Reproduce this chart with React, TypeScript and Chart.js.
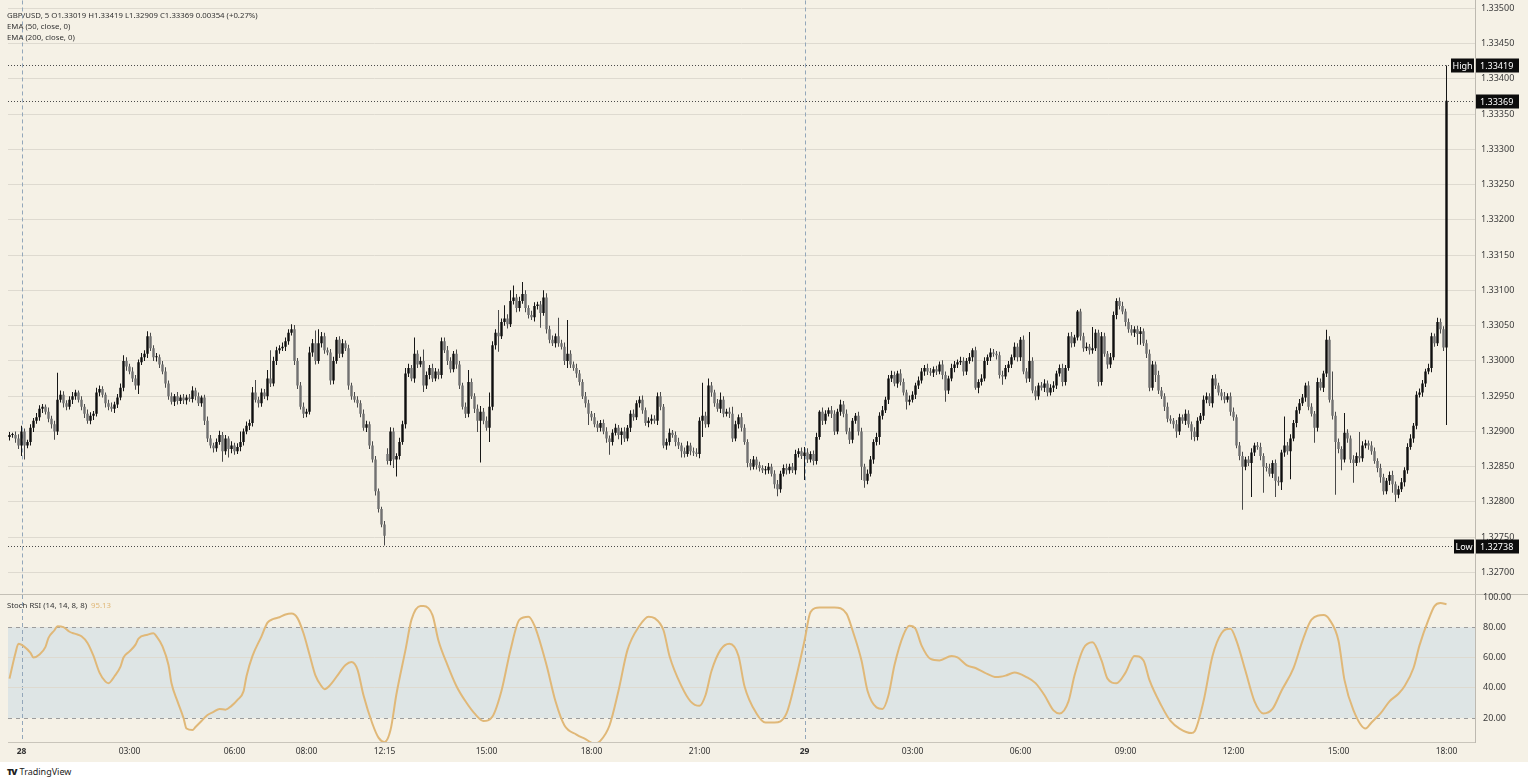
import React, { useEffect, useRef } from 'react';
import { Chart, registerables } from 'chart.js';

Chart.register(...registerables);

const FONT = '"Noto Sans", "DejaVu Sans", sans-serif';

// ---- price data (points of 0.00001 above PRICE_BASE) ----
const PRICE_BASE = 1.327;
const PIP = 0.00001;
const FIRST_OPEN = 192;
const GAP_INDEX = [126];
const GAP_OPEN = [168];

const CLOSE = [
  195,195,190,180,200,180,185,205,215,220,
  232,235,228,218,210,200,245,252,240,235,
  245,250,255,245,235,225,215,222,225,255,
  260,252,240,235,232,238,248,262,300,292,
  285,275,265,298,305,310,335,318,305,305,
  295,285,268,250,242,250,243,248,244,248,
  246,258,250,240,248,215,190,180,176,185,
  195,172,190,175,180,172,178,185,200,208,
  212,255,245,240,255,250,275,268,300,315,
  318,320,328,340,345,300,265,235,225,228,
  312,325,300,325,335,315,312,272,300,330,
  310,325,318,265,250,245,240,225,205,210,
  180,160,115,90,68,52,158,200,160,165,
  185,210,282,290,275,310,295,300,265,280,
  290,275,285,280,328,315,300,288,310,295,
  265,235,225,270,250,232,215,228,215,205,
  235,322,340,335,355,360,352,385,390,375,
  385,395,375,365,362,378,380,368,390,345,
  330,325,335,325,320,300,310,295,290,282,
  270,250,240,225,220,210,205,212,200,190,
  185,198,205,195,200,190,205,225,220,240,
  245,230,212,215,218,215,250,235,180,185,
  198,195,185,180,172,168,180,172,170,168,
  215,222,210,265,255,240,232,245,225,228,
  225,190,210,220,205,185,155,150,160,152,
  148,145,145,150,140,125,118,140,148,145,
  150,145,168,172,165,170,160,168,158,192,
  228,215,225,230,225,200,228,238,225,200,
  188,215,222,200,150,130,140,160,185,192,
  222,230,245,275,280,268,282,270,255,242,
  245,252,265,272,285,290,285,283,288,285,
  295,280,258,275,290,295,298,300,285,300,
  305,315,262,270,275,300,305,312,310,308,
  280,278,290,295,305,320,305,330,285,275,
  300,258,250,265,262,268,255,262,265,282,
  290,270,290,335,325,333,370,335,318,320,
  315,318,340,270,335,310,295,305,365,385,
  378,370,355,345,340,345,338,342,325,310,
  262,295,280,258,250,235,218,215,210,200,
  220,215,225,210,200,192,215,222,245,250,
  240,275,265,255,250,245,250,228,220,180,
  165,150,160,155,170,180,178,165,150,148,
  140,155,130,128,170,180,172,190,212,230,
  240,248,265,235,225,205,270,262,282,330,
  245,222,185,175,160,198,190,160,155,165,
  162,180,183,180,172,158,148,135,115,130,
  138,125,110,118,128,145,178,190,208,252,
  255,268,285,290,335,325,355,345,319,669,
];

const UPPER_WICK = [
  4,3,5,6,8,4,3,5,4,6,
  5,4,3,6,4,5,38,6,5,4,
  5,6,4,3,5,4,6,5,4,7,
  5,4,3,5,6,4,5,6,8,5,
  4,6,5,4,6,5,7,5,4,6,
  4,5,6,4,5,3,6,4,5,4,
  5,6,4,5,3,4,6,5,4,5,
  6,4,5,3,6,4,5,15,4,6,
  5,8,18,4,6,5,12,40,6,5,
  4,6,5,5,7,6,4,5,6,4,
  8,6,18,20,6,5,4,5,6,4,
  5,6,4,5,4,6,5,4,6,5,
  4,6,5,4,3,5,8,6,5,4,
  6,5,8,6,4,23,5,6,16,5,
  4,6,5,4,5,5,6,5,4,6,
  5,4,6,17,5,4,6,8,5,6,
  20,6,5,32,5,19,6,15,17,5,
  6,17,5,4,6,5,4,5,10,6,
  5,6,4,26,5,6,48,5,4,6,
  5,4,6,5,4,6,5,4,5,6,
  4,5,6,4,5,6,4,5,6,4,
  5,6,4,5,6,5,5,6,4,5,
  6,4,5,6,4,5,6,4,5,6,
  5,47,6,10,5,4,6,10,5,4,
  6,10,5,4,6,5,4,6,5,4,
  5,4,6,5,4,5,6,4,5,6,
  4,5,6,4,5,8,6,4,5,6,
  2,6,5,4,6,5,4,7,5,6,
  5,4,4,6,5,4,6,5,4,6,
  5,6,4,5,6,5,4,6,5,4,
  6,5,4,6,5,4,6,5,4,5,
  4,6,5,4,6,5,4,6,5,4,
  6,3,5,4,6,5,4,6,5,4,
  5,6,4,5,4,6,5,4,6,5,
  41,5,6,4,5,6,4,5,6,4,
  5,6,4,5,6,4,2,4,5,6,
  4,30,5,4,6,5,4,6,5,4,
  5,6,4,5,6,4,5,6,4,5,
  6,5,4,6,5,4,6,5,4,6,
  5,4,6,5,4,6,5,4,6,5,
  4,5,6,4,5,6,4,5,6,4,
  5,6,4,5,6,4,5,6,4,5,
  6,4,5,6,4,41,5,6,4,5,
  6,5,4,6,5,4,6,5,4,14,
  5,40,6,5,4,28,5,4,6,5,
  34,6,5,4,6,5,4,6,5,4,
  5,6,4,5,6,4,5,6,4,5,
  6,5,4,6,5,4,6,5,4,50,
];

const LOWER_WICK = [
  5,4,6,5,15,20,4,5,6,4,
  5,6,4,5,6,12,5,4,6,5,
  4,6,5,4,5,6,4,5,6,4,
  5,4,6,5,4,6,5,4,5,6,
  4,5,6,12,4,5,6,4,5,6,
  5,4,6,5,4,6,5,4,5,6,
  4,5,6,4,5,6,5,4,6,5,
  4,15,5,12,6,5,4,6,5,4,
  6,5,4,6,5,4,6,5,4,6,
  5,4,6,5,4,6,5,4,6,5,
  4,6,5,4,6,5,4,6,5,4,
  6,5,4,6,5,4,6,5,4,6,
  5,4,6,5,4,14,5,6,12,24,
  5,4,6,5,4,6,5,4,9,5,
  6,5,4,6,5,4,6,5,4,6,
  5,4,6,5,4,6,16,59,5,4,
  20,5,6,22,4,5,6,4,5,6,
  5,4,6,5,4,6,5,21,4,6,
  5,4,6,5,4,6,10,5,4,6,
  5,4,6,16,5,4,6,5,4,6,
  18,5,4,6,14,5,4,6,5,4,
  6,5,4,6,5,4,6,5,4,6,
  5,4,6,5,9,5,4,6,5,4,
  6,23,5,4,6,5,4,6,5,4,
  6,5,4,6,5,4,6,5,4,6,
  5,4,6,5,4,6,10,5,4,6,
  5,4,6,5,4,34,5,4,6,5,
  4,6,5,4,6,5,4,6,5,4,
  6,5,4,6,19,10,5,4,6,5,
  11,5,4,6,5,4,6,5,4,11,
  5,4,6,5,4,6,5,4,6,5,
  4,6,16,5,4,6,5,4,6,5,
  4,6,3,8,5,4,6,5,4,6,
  5,12,4,6,5,4,6,5,4,6,
  5,4,6,5,4,6,5,4,6,5,
  4,6,5,4,6,5,4,6,5,4,
  6,5,4,6,5,4,6,5,4,6,
  5,4,6,5,4,6,15,15,4,6,
  5,4,10,5,4,6,5,4,6,9,
  5,4,6,5,12,6,5,4,6,5,
  4,6,5,4,6,5,4,6,5,4,
  6,61,5,4,48,5,4,6,37,5,
  4,6,23,5,11,6,5,40,4,6,
  5,4,6,5,4,21,5,4,6,5,
  4,5,75,6,15,4,6,5,28,4,
  6,5,4,6,5,4,6,8,5,4,
  6,12,10,5,4,6,5,4,6,5,
  4,6,5,4,6,5,4,6,5,110,
];

// ---- axis / marks ----
const RIGHT_PAD_BARS = 9;
const PRICE_MIN = 1.3267;
const PRICE_MAX = 1.335112;
const PRICE_TICKS = [
  1.327, 1.3275, 1.328, 1.3285, 1.329, 1.3295, 1.33, 1.3305, 1.331,
  1.3315, 1.332, 1.3325, 1.333, 1.3335, 1.334, 1.3345, 1.335,
];
const MARK_PRICES = [1.33419, 1.33369, 1.32738];
const MARK_TAGS = ['High', '', 'Low'];

const TIME_TICK_INDEX = [4, 40, 75, 99, 125, 159, 194, 230, 265, 301, 337, 372, 408, 443, 479];
const TIME_TICK_LABEL = ['28', '03:00', '06:00', '08:00', '12:15', '15:00', '18:00', '21:00', '29', '03:00', '06:00', '09:00', '12:00', '15:00', '18:00'];
const DAY_INDEX = [4, 265];

// ---- Stoch RSI (candle index, value) ----
const STOCH_INDEX = [
  0,2,3,5,7,8,10,12,13,15,16,18,20,22,24,26,28,30,32,33,35,37,38,40,42,43,46,48,49,51,
  53,54,56,58,59,61,62,64,66,68,70,72,74,76,78,79,81,84,86,88,90,92,94,96,98,100,102,104,105,107,
  110,112,114,116,118,121,123,125,127,129,132,134,137,138,141,143,146,149,152,155,158,161,164,167,170,173,175,179,182,185,
  189,192,195,197,200,203,206,210,213,215,218,220,224,227,230,232,234,237,240,243,245,249,252,255,259,262,265,267,270,275,
  279,281,284,286,289,291,293,295,298,300,302,304,307,310,314,316,319,322,325,329,332,335,339,342,345,348,350,353,355,358,
  361,364,366,369,372,375,378,380,384,387,390,394,395,398,401,404,407,409,412,415,418,421,424,428,431,434,438,440,443,445,
  448,452,454,457,460,463,465,468,470,473,475,477,479,
];
const STOCH_VALUE = [
  46,63,69,67,63,60,62,67,73,78,80.7,80,77,75.6,74,69.6,61,50,44,43,47.6,54,60,64,68.5,72.5,75,76,74,67.4,
  55,43,31,20,13,12,14,18,22,24,26,25.5,28,32,37.6,47.6,61,74,83,85.5,86.6,88.4,89,86,76,62,48,41,39,42,
  50,55,57,52,35,16,7,4,12,36,65,85,94,94,88,71,55,41,31,23,18,21,38,65,85,87,81,55,31,15,
  9,6,3,5,15,38,65,81,87,86,78,61,41,31,28,35,51,65,69,61,41,23,17,17,23,45,71,90,93,93,
  89,78,58,38,27,26,35,55,75,81,79,68,59,58,61,60,55,53,50,47,48,50,47,43,35,25,23,31,48,66,
  70,58,46,43,50,61,58,45,28,18,13,10,11,31,61,76,79,71,51,31,23,26,38,53,71,85,88,85,71,45,
  25,13,17,23,31,36,41,53,68,85,94,96,95.13,
];
const STOCH_MIN = 4.1;
const STOCH_MAX = 101.3;
const STOCH_TICKS = [20, 40, 60, 80, 100];
const STOCH_BAND = [20, 80];
const STOCH_GRID = [40, 60];

const BG = '#F5F1E6';
const GRID = '#DEDAD0';
const DAY_LINE = '#93A7BA';
const STOCH_COLOR = '#E0B878';

const toPrice = (p: number) => PRICE_BASE + p * PIP;

export default function App() {
  const topRef = useRef<HTMLCanvasElement>(null);
  const botRef = useRef<HTMLCanvasElement>(null);

  useEffect(() => {
    const opens = CLOSE.map((c, i) => {
      const g = GAP_INDEX.indexOf(i);
      if (g >= 0) return GAP_OPEN[g];
      return i === 0 ? FIRST_OPEN : CLOSE[i - 1];
    });
    const up = CLOSE.map((c, i) => c >= opens[i]);
    const bodies = CLOSE.map((c, i) => ({ x: i, y: [toPrice(opens[i]), toPrice(c)] }));
    const wicks = CLOSE.map((c, i) => ({
      x: i,
      y: [toPrice(Math.min(opens[i], c) - LOWER_WICK[i]), toPrice(Math.max(opens[i], c) + UPPER_WICK[i])],
    }));
    const bodyColors = up.map((u) => (u ? '#0f0f0f' : '#717171'));
    const wickColors = up.map((u) => (u ? '#161616' : '#4a4a4a'));
    const xMax = CLOSE.length - 0.5 + RIGHT_PAD_BARS;

    const drawDayLines = (chart: any) => {
      const { ctx, chartArea, scales } = chart;
      ctx.save();
      ctx.strokeStyle = DAY_LINE;
      ctx.lineWidth = 1;
      ctx.setLineDash([4, 3]);
      DAY_INDEX.forEach((i) => {
        const x = Math.round(scales.x.getPixelForValue(i)) + 0.5;
        ctx.beginPath();
        ctx.moveTo(x, chartArea.top);
        ctx.lineTo(x, chartArea.bottom);
        ctx.stroke();
      });
      ctx.restore();
    };

    const topOverlay = {
      id: 'topOverlay',
      beforeDatasetsDraw(chart: any) {
        drawDayLines(chart);
      },
      afterDraw(chart: any) {
        const { ctx, chartArea, scales } = chart;
        ctx.save();
        MARK_PRICES.forEach((p, k) => {
          const y = Math.round(scales.y.getPixelForValue(p)) + 0.5;
          ctx.strokeStyle = '#4a4a4a';
          ctx.lineWidth = 1;
          ctx.setLineDash([1, 2]);
          ctx.beginPath();
          ctx.moveTo(chartArea.left, y);
          ctx.lineTo(chartArea.right, y);
          ctx.stroke();
          ctx.setLineDash([]);
          ctx.fillStyle = '#0c0c0c';
          ctx.fillRect(chartArea.right + 1, y - 7, 43, 14);
          ctx.fillStyle = '#ffffff';
          ctx.font = `9px ${FONT}`;
          ctx.textBaseline = 'middle';
          ctx.textAlign = 'left';
          ctx.fillText(p.toFixed(5), chartArea.right + 5, y + 0.5);
          if (MARK_TAGS[k]) {
            const w = MARK_TAGS[k] === 'High' ? 23 : 20;
            ctx.fillStyle = '#0c0c0c';
            ctx.fillRect(chartArea.right - w - 1, y - 7, w, 14);
            ctx.fillStyle = '#ffffff';
            ctx.textAlign = 'center';
            ctx.fillText(MARK_TAGS[k], chartArea.right - 1 - w / 2, y + 0.5);
          }
        });
        ctx.restore();
      },
    };

    const top = new Chart(topRef.current as HTMLCanvasElement, {
      type: 'bar',
      data: {
        datasets: [
          {
            label: 'wick',
            data: wicks as any,
            backgroundColor: wickColors,
            maxBarThickness: 1,
            grouped: false,
            order: 2,
          } as any,
          {
            label: 'body',
            data: bodies as any,
            backgroundColor: bodyColors,
            barPercentage: 0.95,
            categoryPercentage: 0.85,
            minBarLength: 1,
            grouped: false,
            order: 1,
          } as any,
        ],
      },
      options: {
        animation: false,
        responsive: false,
        maintainAspectRatio: false,
        layout: { autoPadding: false, padding: { left: 8, right: 0, top: 0, bottom: 0 } },
        plugins: { legend: { display: false }, tooltip: { enabled: false } },
        scales: {
          x: { type: 'linear', bounds: 'data', min: -0.5, max: xMax, offset: false, grid: { offset: false }, display: false },
          y: {
            position: 'right',
            bounds: 'data',
            min: PRICE_MIN,
            max: PRICE_MAX,
            afterBuildTicks: (s: any) => {
              s.ticks = PRICE_TICKS.map((v) => ({ value: v }));
            },
            grid: { color: GRID, drawTicks: true, tickLength: 6, tickColor: 'rgba(0,0,0,0)' },
            border: { display: true, color: '#BDB9B0' },
            ticks: {
              padding: 0,
              color: '#3a3a3a',
              font: { family: FONT, size: 9, lineHeight: 0.1 },
              callback: (v: any) => Number(v).toFixed(5),
            },
            afterFit: (s: any) => {
              s.width = 53;
            },
          },
        },
      } as any,
      plugins: [topOverlay],
    });

    const botOverlay = {
      id: 'botOverlay',
      beforeDraw(chart: any) {
        const { ctx, chartArea, scales } = chart;
        const yHi = scales.y.getPixelForValue(STOCH_BAND[1]);
        const yLo = scales.y.getPixelForValue(STOCH_BAND[0]);
        ctx.save();
        ctx.fillStyle = '#DEE5E5';
        ctx.fillRect(chartArea.left, yHi, chartArea.right - chartArea.left, yLo - yHi);
        ctx.strokeStyle = '#9c9c9c';
        ctx.lineWidth = 1;
        ctx.setLineDash([4, 4]);
        [yHi, yLo].forEach((yy) => {
          const y = Math.round(yy) + 0.5;
          ctx.beginPath();
          ctx.moveTo(chartArea.left, y);
          ctx.lineTo(chartArea.right, y);
          ctx.stroke();
        });
        ctx.restore();
        drawDayLines(chart);
      },
    };

    const bot = new Chart(botRef.current as HTMLCanvasElement, {
      type: 'line',
      data: {
        datasets: [
          {
            label: 'Stoch RSI',
            data: STOCH_INDEX.map((x, i) => ({ x, y: STOCH_VALUE[i] })),
            borderColor: STOCH_COLOR,
            borderWidth: 2,
            pointRadius: 0,
            cubicInterpolationMode: 'monotone',
            fill: false,
          },
        ],
      },
      options: {
        animation: false,
        responsive: false,
        maintainAspectRatio: false,
        layout: { autoPadding: false, padding: { left: 8, right: 0, top: 10, bottom: 0 } },
        plugins: { legend: { display: false }, tooltip: { enabled: false } },
        scales: {
          x: {
            type: 'linear',
            bounds: 'data',
            min: -0.5,
            max: xMax,
            offset: false,
            grid: { display: false, drawTicks: false },
            border: { display: true, color: '#C9C5BB' },
            afterBuildTicks: (s: any) => {
              s.ticks = TIME_TICK_INDEX.map((v) => ({ value: v }));
            },
            ticks: {
              autoSkip: false,
              maxRotation: 0,
              padding: 4,
              color: '#333333',
              font: (ctx: any) => ({
                family: FONT,
                size: 8.5,
                weight: ctx.tick && DAY_INDEX.includes(ctx.tick.value) ? 'bold' : 'normal',
              }),
              callback: (v: any) => {
                const k = TIME_TICK_INDEX.indexOf(Number(v));
                return k >= 0 ? TIME_TICK_LABEL[k] : '';
              },
            },
            afterFit: (s: any) => {
              s.height = 20;
            },
          },
          y: {
            position: 'right',
            bounds: 'data',
            min: STOCH_MIN,
            max: STOCH_MAX,
            afterBuildTicks: (s: any) => {
              s.ticks = STOCH_TICKS.map((v) => ({ value: v }));
            },
            grid: {
              drawTicks: true,
              tickLength: 8,
              tickColor: 'rgba(0,0,0,0)',
              color: (ctx: any) => (ctx.tick && STOCH_GRID.includes(ctx.tick.value) ? GRID : 'rgba(0,0,0,0)'),
            },
            border: { display: true, color: '#BDB9B0' },
            ticks: {
              padding: 0,
              color: '#3a3a3a',
              font: { family: FONT, size: 9, lineHeight: 0.1 },
              callback: (v: any) => Number(v).toFixed(2),
            },
            afterFit: (s: any) => {
              s.width = 53;
            },
          },
        },
      } as any,
      plugins: [botOverlay],
    });

    return () => {
      top.destroy();
      bot.destroy();
    };
  }, []);

  const txt: React.CSSProperties = {
    position: 'absolute',
    fontSize: 7.8,
    lineHeight: '10px',
    color: '#333333',
    whiteSpace: 'pre',
    fontFamily: FONT,
  };

  return (
    <div style={{ position: 'fixed', left: 0, top: 0, width: 1528, height: 784, background: '#ffffff', overflow: 'hidden' }}>
      <div style={{ position: 'absolute', left: 0, top: 0, width: 1528, height: 762, background: BG }} />
      <canvas ref={topRef} width={1528} height={594} style={{ position: 'absolute', left: 0, top: 0, width: 1528, height: 594 }} />
      <div style={{ position: 'absolute', left: 0, top: 594, width: 1528, height: 1, background: '#C4C0B6' }} />
      <canvas ref={botRef} width={1528} height={177} style={{ position: 'absolute', left: 0, top: 585, width: 1528, height: 177 }} />
      <div style={{ ...txt, left: 7, top: 10 }}>GBP/USD, 5 O1.33019 H1.33419 L1.32909 C1.33369 0.00354 (+0.27%)</div>
      <div style={{ ...txt, left: 7, top: 21 }}>EMA (50, close, 0)</div>
      <div style={{ ...txt, left: 7, top: 32 }}>EMA (200, close, 0)</div>
      <div style={{ ...txt, left: 7, top: 600 }}>
        Stoch RSI (14, 14, 8, 8)  <span style={{ color: STOCH_COLOR }}>95.13</span>
      </div>
      <div style={{ position: 'absolute', left: 7, top: 766, fontFamily: FONT, fontSize: 9, lineHeight: '12px', color: '#222' }}>
        <span style={{ fontWeight: 900, letterSpacing: -1, marginRight: 3 }}>TV</span>TradingView
      </div>
    </div>
  );
}
